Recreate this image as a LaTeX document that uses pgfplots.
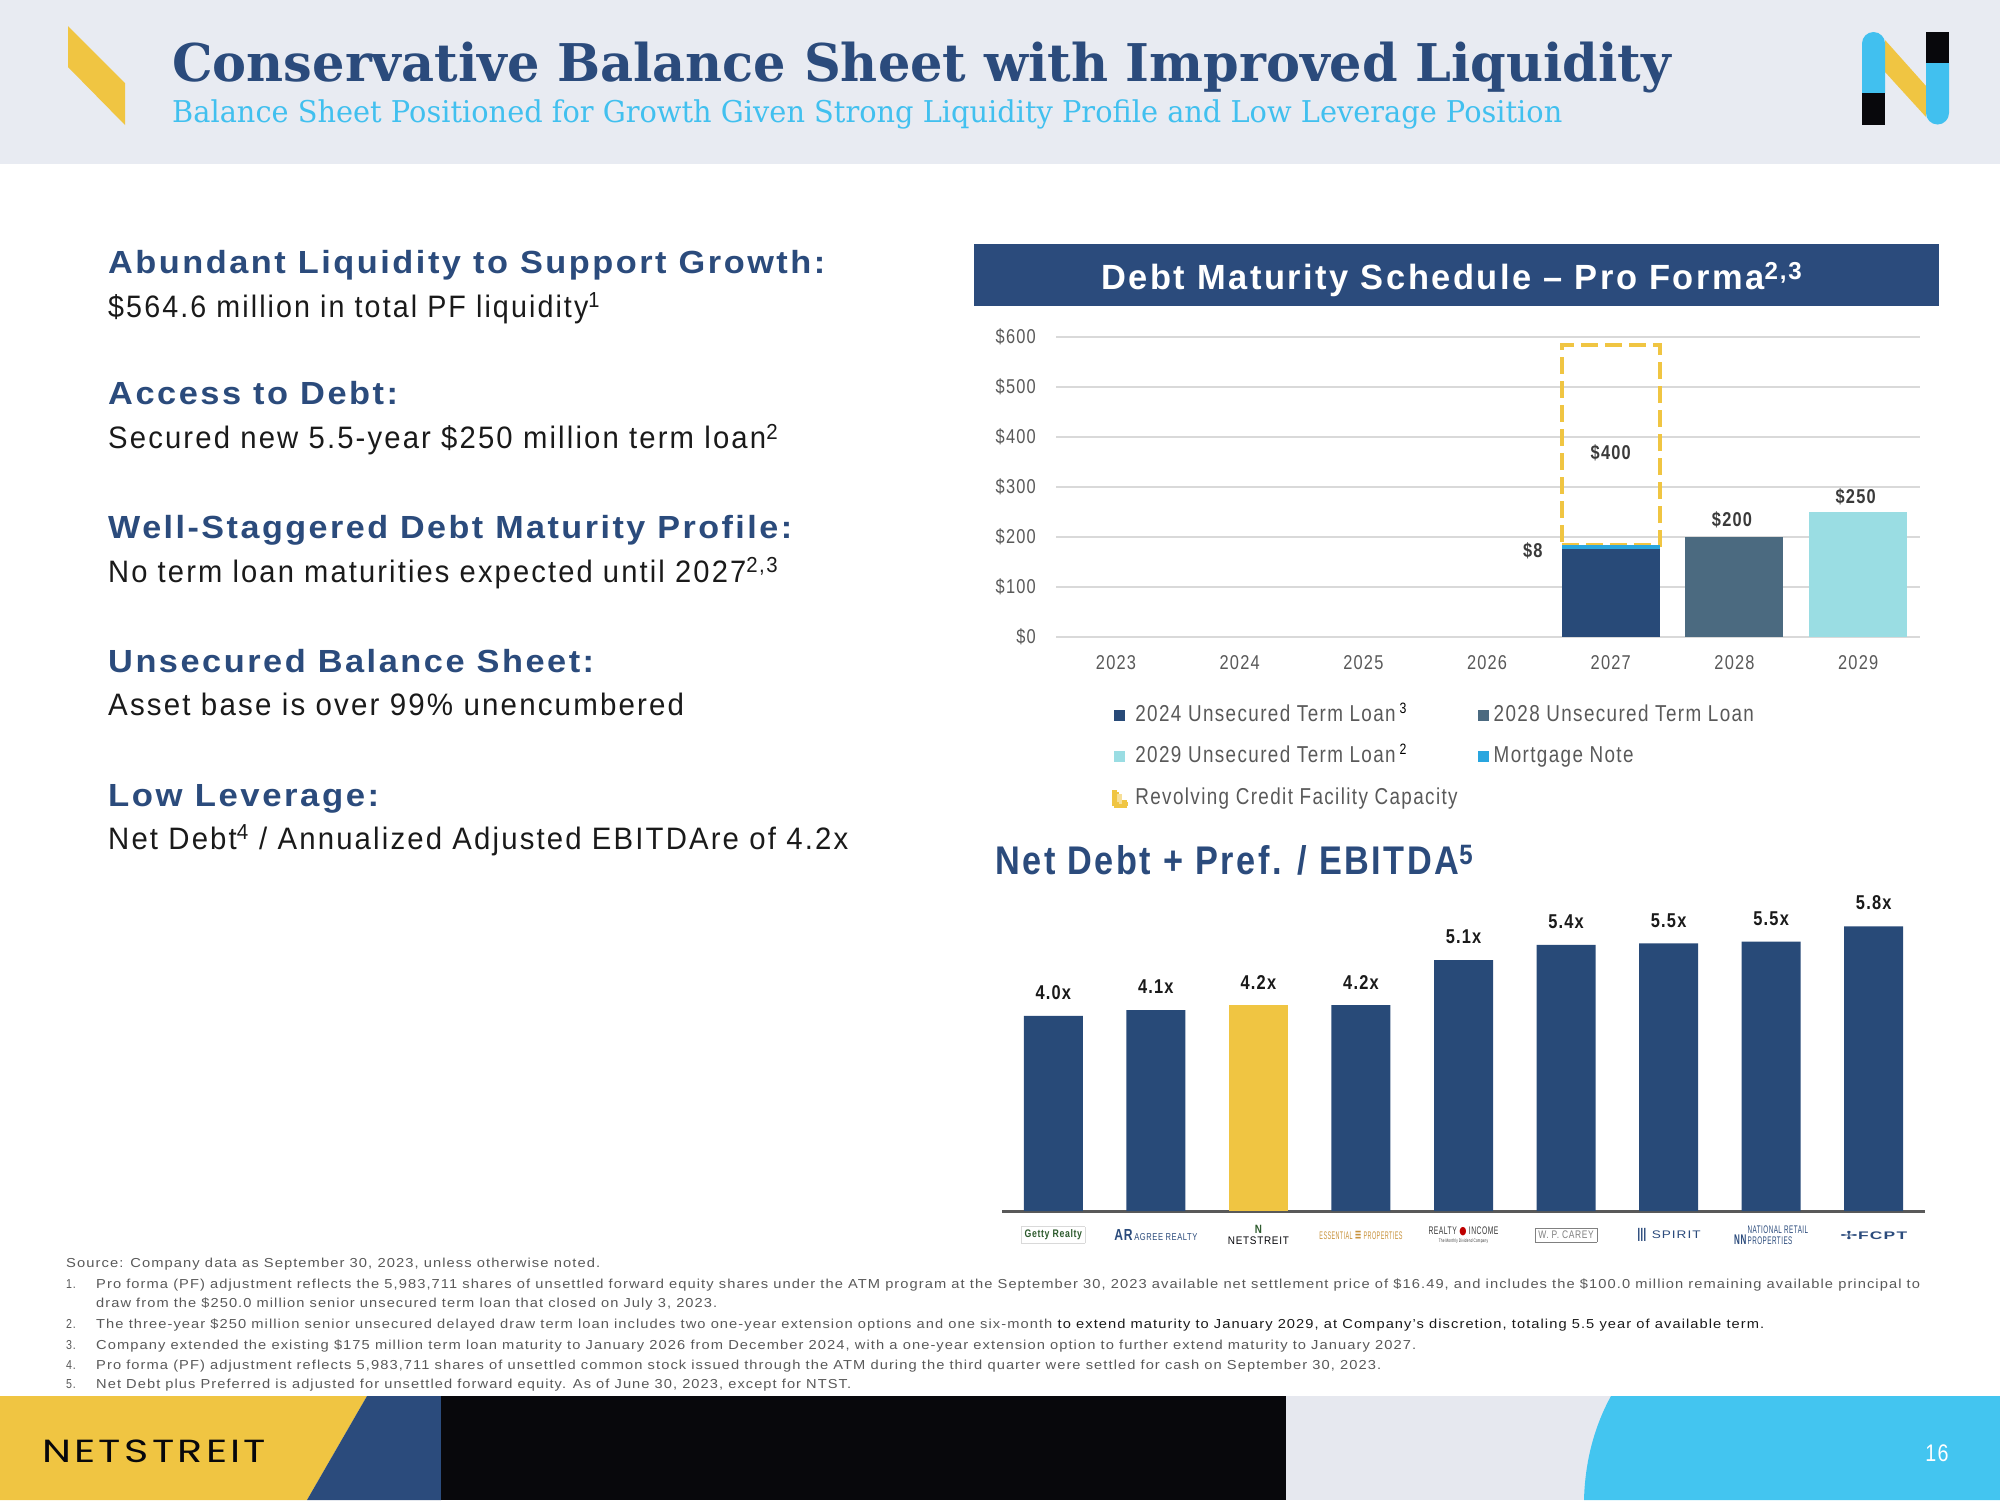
\documentclass[border=0pt]{standalone}
\usepackage{fontspec}
\usepackage{pgfplots}
\pgfplotsset{compat=1.18}
\usepackage{graphicx}
\setmainfont{Liberation Sans}
\newfontfamily\nar[FakeStretch=0.82,LetterSpace=6]{Liberation Sans}
\newfontfamily\serif{DejaVu Serif}
\newfontfamily\pop[LetterSpace=8]{Poppins}
\newfontfamily\dvs{DejaVu Sans}
\definecolor{navy}{HTML}{2B4B7C}
\definecolor{barblue}{HTML}{284A78}
\definecolor{gold}{HTML}{F0C542}
\definecolor{ncyan}{HTML}{41C0EF}
\definecolor{hdrbg}{HTML}{E8EBF2}
\definecolor{slate}{HTML}{4B6A80}
\definecolor{lightcy}{HTML}{9ADDE3}
\definecolor{mort}{HTML}{29A6DF}
\definecolor{gridg}{HTML}{D9D9D9}
\definecolor{tgray}{HTML}{595959}
\definecolor{lblg}{HTML}{3A3A3A}
\definecolor{blk}{HTML}{08080C}
\definecolor{ftgray}{HTML}{E6E8EF}
\definecolor{ftcyan}{HTML}{43C5F0}
\definecolor{bodyc}{HTML}{1A1A1A}
\definecolor{gettyg}{HTML}{2E5B2E}
\definecolor{essc}{HTML}{C8923A}
\newcommand\fitw[2]{\resizebox{#1pt}{\height}{#2}}
\pgfplotsset{
  sqleg/.style={legend image code/.code={\fill[##1] (0pt,-5.5pt) rectangle (11pt,5.5pt);}},
  revleg/.style={legend image code/.code={\fill[gold] (0pt,-8pt) rectangle (4.5pt,6pt); \fill[gold] (0pt,-8pt) rectangle (14pt,-3.5pt); \fill[gold!55!white] (4.5pt,-3.5pt) rectangle (6pt,2pt);}},
}
\def\hd{\nar\bfseries\fontsize{32}{36}\selectfont\color{navy}}
\def\bd{\nar\fontsize{31}{36}\selectfont\color{bodyc}}
\def\fn{\nar\fontsize{13}{15}\selectfont\color{tgray}}
\begin{document}
\begin{tikzpicture}
\begin{scope}[x=1pt,y=-1pt]
\path[use as bounding box, fill=white] (0,0) rectangle (2000,1500);
% header
\fill[hdrbg] (0,0) rectangle (2000,164);
\fill[gold] (68,26) -- (125,83) -- (125,125) -- (68,67) -- cycle;
\node[anchor=base west, inner sep=0] at (172,81) {\fitw{1499}{\serif\bfseries\fontsize{52}{60}\selectfont\color{navy}Conservative Balance Sheet with Improved Liquidity}};
\node[anchor=base west, inner sep=0] at (172,122) {\fitw{1390}{\serif\fontsize{30}{36}\selectfont\color{ncyan}Balance Sheet Positioned for Growth Given Strong Liquidity Profile and Low Leverage Position}};
% N logo
\fill[gold] (1885,40) -- (1926,86) -- (1926,117) -- (1885,72) -- cycle;
\fill[ncyan] (1862,93) -- (1862,43.5) arc (180:360:11.5) -- (1885,93) -- cycle;
\fill[blk] (1862,93) rectangle (1885,125);
\fill[blk] (1926,32) rectangle (1949,63);
\fill[ncyan] (1926,63) -- (1926,113) arc (180:0:11.5) -- (1949,63) -- cycle;
% footer
\fill[gold] (0,1396) -- (367,1396) -- (307,1500) -- (0,1500) -- cycle;
\fill[navy] (367,1396) -- (441,1396) -- (441,1500) -- (307,1500) -- cycle;
\fill[blk] (441,1396) rectangle (1286,1500);
\fill[ftgray] (1286,1396) rectangle (2000,1500);
\fill[ftcyan] (1611,1396) -- (2000,1396) -- (2000,1500) -- (1584,1500) .. controls (1585,1460) and (1595,1425) .. (1611,1396) -- cycle;
\node[anchor=base west, inner sep=0] at (42,1462) {\fitw{224}{\pop\fontsize{32}{36}\selectfont\color{blk}NETSTREIT}};
\node[inner sep=0, text=white] at (1937,1453) {\nar\fontsize{24}{28}\selectfont 16};
% left text
\node[anchor=base west, inner sep=0] at (108,273) {\fitw{717}{\hd Abundant Liquidity to Support Growth:}};
\node[anchor=base west, inner sep=0] at (108,317) {\fitw{492}{\bd \$564.6 million in total PF liquidity\textsuperscript{1}}};
\node[anchor=base west, inner sep=0] at (108,404.5) {\fitw{290}{\hd Access to Debt:}};
\node[anchor=base west, inner sep=0] at (108,448.5) {\fitw{670}{\bd Secured new 5.5-year \$250 million term loan\textsuperscript{2}}};
\node[anchor=base west, inner sep=0] at (108,538.5) {\fitw{684}{\hd Well-Staggered Debt Maturity Profile:}};
\node[anchor=base west, inner sep=0] at (108,582) {\fitw{670}{\bd No term loan maturities expected until 2027\textsuperscript{2,3}}};
\node[anchor=base west, inner sep=0] at (108,672.5) {\fitw{486}{\hd Unsecured Balance Sheet:}};
\node[anchor=base west, inner sep=0] at (108,715) {\fitw{576}{\bd Asset base is over 99\% unencumbered}};
\node[anchor=base west, inner sep=0] at (108,806.5) {\fitw{271}{\hd Low Leverage:}};
\node[anchor=base west, inner sep=0] at (108,849) {\fitw{740}{\bd Net Debt\textsuperscript{4} / Annualized Adjusted EBITDAre of 4.2x}};
% chart titles
\fill[navy] (974,244) rectangle (1939,306);
\node[anchor=base west, inner sep=0] at (1101,289) {\fitw{701}{\nar\bfseries\fontsize{35}{40}\selectfont\color{white}Debt Maturity Schedule – Pro Forma\textsuperscript{2,3}}};
\node[anchor=base west, inner sep=0] at (995,874) {\fitw{478}{\nar\bfseries\fontsize{40}{44}\selectfont\color{navy}Net Debt + Pref. / EBITDA\textsuperscript{5}}};
% footnotes
\node[anchor=base west, inner sep=0] at (66,1267) {\fitw{534}{\fn Source: Company data as September 30, 2023, unless otherwise noted.}};
\node[anchor=base west, inner sep=0] at (66,1288) {\fn 1.};
\node[anchor=base west, inner sep=0] at (96,1288) {\fitw{1824}{\fn Pro forma (PF) adjustment reflects the 5,983,711 shares of unsettled forward equity shares under the ATM program at the September 30, 2023 available net settlement price of \$16.49, and includes the \$100.0 million remaining available principal to}};
\node[anchor=base west, inner sep=0] at (96,1307) {\fitw{621}{\fn draw from the \$250.0 million senior unsecured term loan that closed on July 3, 2023.}};
\node[anchor=base west, inner sep=0] at (66,1328) {\fn 2.};
\node[anchor=base west, inner sep=0] at (96,1328) {\fitw{1668}{\fn The three-year \$250 million senior unsecured delayed draw term loan includes two one-year extension options and one six-month {\color{bodyc}to extend maturity to January 2029, at Company’s discretion, totaling 5.5 year of available term.}}};
\node[anchor=base west, inner sep=0] at (66,1349) {\fn 3.};
\node[anchor=base west, inner sep=0] at (96,1349) {\fitw{1320}{\fn Company extended the existing \$175 million term loan maturity to January 2026 from December 2024, with a one-year extension option to further extend maturity to January 2027.}};
\node[anchor=base west, inner sep=0] at (66,1369) {\fn 4.};
\node[anchor=base west, inner sep=0] at (96,1369) {\fitw{1285}{\fn Pro forma (PF) adjustment reflects 5,983,711 shares of unsettled common stock issued through the ATM during the third quarter were settled for cash on September 30, 2023.}};
\node[anchor=base west, inner sep=0] at (66,1388) {\fn 5.};
\node[anchor=base west, inner sep=0] at (96,1388) {\fitw{755}{\fn Net Debt plus Preferred is adjusted for unsettled forward equity. As of June 30, 2023, except for NTST.}};
\end{scope}

% ---------- Debt maturity schedule ----------
\begin{axis}[
  at={(1056pt,-636.5pt)}, anchor=south west,
  scale only axis, width=864pt, height=299.8pt,
  xmin=-0.485, xmax=6.5, ymin=0, ymax=600,
  ybar stacked, bar width=98pt,
  axis line style={draw=none},
  ymajorgrids, grid style={gridg, line width=2pt},
  major tick length=0pt,
  ytick={0,100,200,300,400,500,600},
  yticklabels={\$0,\$100,\$200,\$300,\$400,\$500,\$600},
  xtick={0,1,2,3,4,5,6},
  xticklabels={2023,2024,2025,2026,2027,2028,2029},
  tick label style={font=\nar\fontsize{20}{24}\selectfont, text=tgray, inner sep=0pt},
  yticklabel style={anchor=east, xshift=-20pt},
  xticklabel style={anchor=center, yshift=-26.5pt},
  clip=false,
  legend columns=2,
  legend cell align=left,
  legend style={at={(0.065,-0.225)}, anchor=north west, draw=none, fill=none,
    inner sep=0pt, font=\nar\fontsize{23}{27}\selectfont, text=tgray,
    nodes={inner sep=0pt, text height=17pt, text depth=5pt},
    row sep=19.5pt,
    /tikz/every odd column/.append style={column sep=5pt},
    /tikz/every even column/.append style={column sep=20pt}},
]
\addplot[fill=barblue, draw=none, sqleg] coordinates {(4,175)};
\addlegendentry{2024 Unsecured Term Loan\,\raisebox{8pt}{\fontsize{15}{15}\selectfont\color{black}3}}
\addlegendimage{sqleg, fill=slate, draw=none}
\addlegendentry{2028 Unsecured Term Loan}
\addlegendimage{sqleg, fill=lightcy, draw=none}
\addlegendentry{2029 Unsecured Term Loan\,\raisebox{8pt}{\fontsize{15}{15}\selectfont\color{black}2}}
\addplot[fill=mort, draw=none, sqleg] coordinates {(4,8)};
\addlegendentry{Mortgage Note}
\addplot[fill=none, draw=gold, line width=4pt, dash pattern=on 17pt off 7pt, revleg] coordinates {(4,400)};
\addlegendentry{Revolving Credit Facility Capacity}
\node[font=\nar\bfseries\fontsize{20}{24}\selectfont, text=white] at (axis cs:4,85) {\$175};
\node[font=\nar\bfseries\fontsize{20}{24}\selectfont, text=lblg] at (axis cs:3.37,171) {\$8};
\node[font=\nar\bfseries\fontsize{20}{24}\selectfont, text=lblg] at (axis cs:4,367) {\$400};
\node[font=\nar\bfseries\fontsize{20}{24}\selectfont, text=lblg] at (axis cs:4.98,233) {\$200};
\node[font=\nar\bfseries\fontsize{20}{24}\selectfont, text=lblg] at (axis cs:5.98,279) {\$250};
\end{axis}
\begin{axis}[
  at={(1056pt,-636.5pt)}, anchor=south west,
  scale only axis, width=864pt, height=299.8pt,
  xmin=-0.485, xmax=6.5, ymin=0, ymax=600,
  hide axis,
  ybar, bar width=98pt, bar shift=0pt,
]
\addplot[fill=slate, draw=none] coordinates {(5,200)};
\addplot[fill=lightcy, draw=none] coordinates {(6,250)};
\end{axis}

% ---------- Net Debt + Pref / EBITDA ----------
\begin{axis}[
  at={(1002pt,-1211pt)}, anchor=south west,
  scale only axis, width=923pt, height=318.5pt,
  xmin=-0.5, xmax=8.5, ymin=0, ymax=6.5,
  ybar, bar width=59pt, bar shift=0pt,
  axis y line=none, axis x line*=bottom,
  x axis line style={draw=tgray, line width=3pt, -},
  ytick=\empty, major tick length=0pt,
  xtick={0,1,2,3,4,5,6,7,8},
  xticklabels={
    {\fitw{64}{\fcolorbox{gridg}{white}{\bfseries\color{gettyg}Getty Realty}}},
    {\fitw{83}{\color{navy}{\bfseries\fontsize{16}{16}\selectfont AR}\,{\fontsize{10}{10}\selectfont AGREE REALTY}}},
    {\raisebox{-7pt}{\shortstack{{\bfseries\fontsize{12}{12}\selectfont\color{gettyg}N}\\{\fitw{61}{\fontsize{11}{12}\selectfont\color{blk}NETSTREIT}}}}},
    {\fitw{83}{\color{essc}ESSENTIAL {\dvs\bfseries\fontsize{14}{14}\selectfont ≡} PROPERTIES}},
    {\fitw{70}{\shortstack{\color{lblg}REALTY {\color{red!75!black}\dvs ●} INCOME\\{\fontsize{5}{5}\selectfont\color{lblg}The Monthly Dividend Company}}}},
    {\fitw{62}{\fcolorbox{gray}{white}{\color{gray}W. P. CAREY}}},
    {\fitw{64}{\color{navy}{\fontsize{14}{14}\selectfont |\kern-1pt|\kern-1pt|} SPIRIT}},
    {\fitw{74}{\color{navy}{\bfseries\fontsize{14}{14}\selectfont NN}\,\shortstack[l]{NATIONAL RETAIL\\PROPERTIES}}},
    {\fitw{67}{\color{navy}\bfseries{\dvs ✢}FCPT}}
  },
  xticklabel style={anchor=center, yshift=-24pt, inner sep=0pt, font=\nar\fontsize{11}{12}\selectfont},
  nodes near coords, point meta=explicit symbolic,
  nodes near coords style={font=\nar\bfseries\fontsize{20}{24}\selectfont, text=bodyc, anchor=south, inner sep=0pt, yshift=16pt},
  clip=false,
]
\addplot[fill=barblue, draw=none] table[x=x, y=y, meta=lab] {
x y lab
0 3.98 4.0x
1 4.10 4.1x
3 4.20 4.2x
4 5.12 5.1x
5 5.43 5.4x
6 5.46 5.5x
7 5.50 5.5x
8 5.81 5.8x
};
\addplot[fill=gold, draw=none] table[x=x, y=y, meta=lab] {
x y lab
2 4.20 4.2x
};
\end{axis}
\end{tikzpicture}
\end{document}
